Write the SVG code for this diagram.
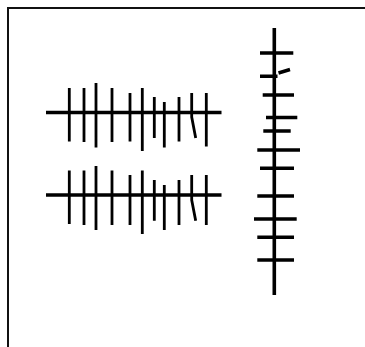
<svg xmlns="http://www.w3.org/2000/svg" width="365" height="347" viewBox="0 0 365 347">
<style>
.frame{fill:none;stroke:#111;stroke-width:2}
.axis{stroke:#000;stroke-width:3.6;fill:none;stroke-linecap:butt}
.tick{stroke:#000;stroke-width:2.8;fill:none;stroke-linecap:butt}
.htick{stroke:#000;stroke-width:3.4;fill:none;stroke-linecap:butt}
</style>
<rect width="365" height="347" fill="#fff"/>
<path class="frame" d="M8,347 V8 H365"/>
<g id="ruler-top">
<line class="axis" x1="46" y1="112.5" x2="221.5" y2="112.5"/>
<path class="tick" d="M69.3,88 V141.5 M84,88 V142 M96,83 V147.5 M112,88 V142 M130,93 V141.5 M142.3,88 V151 M154.3,97 V138 M164.3,102 V147.5 M179,97 V141.5 M191.7,93 V117 L195.7,138 M206.3,93 V146.5"/>
</g>
<g id="ruler-bottom">
<line class="axis" x1="46" y1="195" x2="221.5" y2="195"/>
<path class="tick" d="M69.3,170.5 V224 M84,170.5 V225 M96,166 V230 M112,170.5 V225 M130,175 V225 M142.3,170.5 V234 M154.3,180 V220.7 M164.3,185 V230 M179,180 V225 M191.7,175 V200 L195.7,220.7 M206.3,175 V225"/>
</g>
<g id="ruler-vertical">
<line class="axis" x1="274.3" y1="28" x2="274.3" y2="295"/>
<path class="htick" d="M260,53 H293.3 M260,76.3 H277.5 M278.5,73 L290,69.5 M262.7,95 H294 M266,117.5 H297.3 M263.3,131 H290.7 M257.3,150 H300 M260,168.3 H294 M257.3,196 H294 M254,219 H296.7 M257.3,237.3 H294 M257.3,260 H294"/>
</g>
</svg>
